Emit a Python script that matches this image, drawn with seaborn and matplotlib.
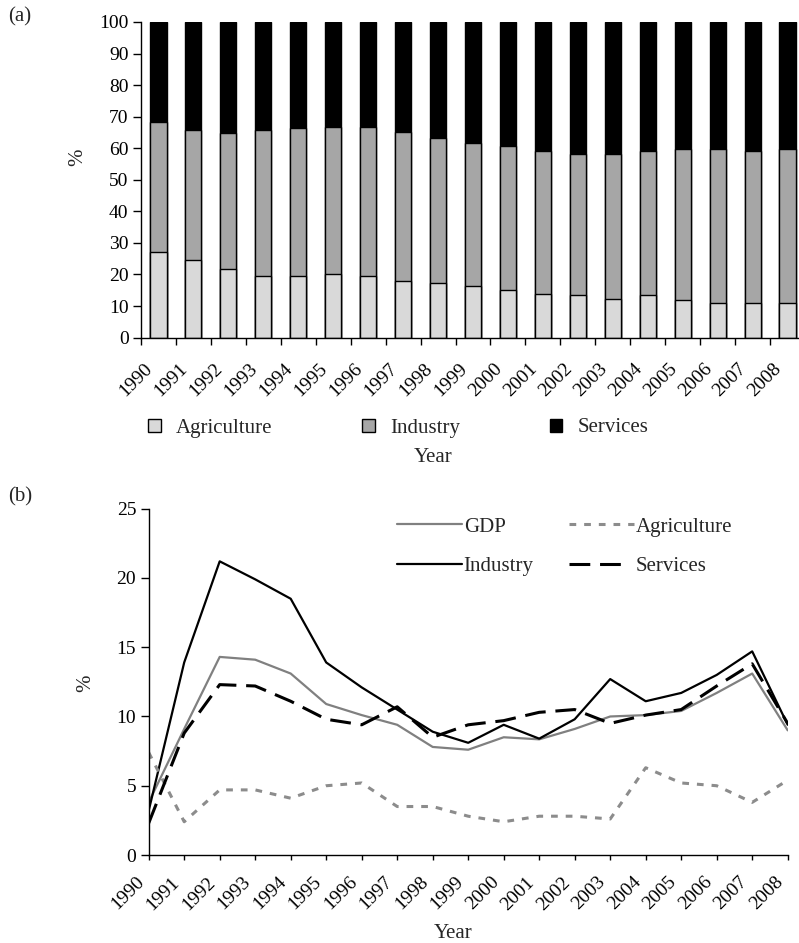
import numpy as np
import pandas as pd
import matplotlib
matplotlib.use("Agg")
import matplotlib.pyplot as plt
from matplotlib.patches import Patch
from matplotlib.lines import Line2D
from matplotlib.transforms import ScaledTranslation
import seaborn as sns

# ---- data -------------------------------------------------------------
years = list(range(1990, 2009))

# sector shares of GDP (%)
share_agriculture = [27.0, 24.6, 21.6, 19.5, 19.5, 20.1, 19.5, 17.9, 17.4, 16.4,
                     15.0, 13.9, 13.4, 12.3, 13.4, 11.9, 10.9, 10.9, 10.9]
share_industry = [41.3, 41.2, 43.3, 46.3, 46.8, 46.7, 47.3, 47.3, 45.9, 45.4,
                  45.8, 45.3, 44.9, 46.0, 45.8, 48.0, 49.0, 48.3, 49.0]
share_services = [31.7, 34.2, 35.1, 34.2, 33.7, 33.2, 33.2, 34.8, 36.7, 38.2,
                  39.2, 40.8, 41.7, 41.7, 40.8, 40.1, 40.1, 40.8, 40.1]

# annual growth rates (%)
growth_gdp = [3.8, 9.1, 14.3, 14.1, 13.1, 10.9, 10.1, 9.4, 7.8, 7.6,
              8.5, 8.35, 9.1, 10.0, 10.1, 10.4, 11.7, 13.1, 9.0]
growth_agriculture = [7.4, 2.4, 4.7, 4.7, 4.1, 5.0, 5.2, 3.5, 3.5, 2.8,
                      2.4, 2.8, 2.8, 2.6, 6.3, 5.2, 5.0, 3.8, 5.4]
growth_industry = [3.2, 13.9, 21.2, 19.9, 18.5, 13.9, 12.1, 10.5, 8.9, 8.1,
                   9.4, 8.4, 9.8, 12.7, 11.1, 11.7, 13.0, 14.7, 9.4]
growth_services = [2.3, 8.8, 12.3, 12.2, 11.1, 9.8, 9.4, 10.7, 8.5, 9.4,
                   9.7, 10.3, 10.5, 9.5, 10.1, 10.5, 12.2, 13.8, 9.5]

# ---- style ------------------------------------------------------------
sns.set_theme(style="white")
plt.rcParams["font.family"] = ["Liberation Serif", "DejaVu Serif"]
plt.rcParams["font.size"] = 15
plt.rcParams["axes.linewidth"] = 1.0
plt.rcParams["xtick.color"] = "black"
plt.rcParams["ytick.color"] = "black"

FS = 15        # legend and axis titles
FS_TICK = 14   # tick labels
C_AGRI = "#d9d9d9"
C_IND = "#a6a6a6"
C_SERV = "#000000"

DASH_AGRI = (0, (2.2, 2.6))
DASH_SERV = (0, (6.8, 3.2))


def shift_labels(labels, dx_px, dy_px, fig):
    """Move tick labels by a fixed offset in pixels."""
    off = ScaledTranslation(dx_px / fig.dpi, dy_px / fig.dpi, fig.dpi_scale_trans)
    for lab in labels:
        lab.set_transform(lab.get_transform() + off)


fig = plt.figure(figsize=(7.99, 9.43), dpi=100)

# ---- (a) stacked shares -----------------------------------------------
ax1 = fig.add_axes([141 / 799, 1 - 337.6 / 943, 664 / 799, (337.6 - 22) / 943])

year_labels = [str(y) for y in years]
agri = np.array(share_agriculture)
ind = np.array(share_industry)
serv = np.array(share_services)
df_share = pd.DataFrame({
    "year": year_labels,
    "total": agri + ind + serv,
    "agri_ind": agri + ind,
    "agri": agri,
})

bar_kw = dict(width=0.46, edgecolor="black", linewidth=1.0, saturation=1, ax=ax1)
sns.barplot(data=df_share, x="year", y="total", color=C_SERV, **bar_kw)
sns.barplot(data=df_share, x="year", y="agri_ind", color=C_IND, **bar_kw)
sns.barplot(data=df_share, x="year", y="agri", color=C_AGRI, **bar_kw)

ax1.set_xlim(-0.5, len(years) - 0.5)
ax1.set_ylim(0, 100)
ax1.set_yticks(np.arange(0, 101, 10))
ax1.set_xticks(np.arange(-0.5, len(years), 1))
ax1.set_xticklabels([])
ax1.set_xticks(np.arange(len(years)), minor=True)
ax1.set_xticklabels(year_labels, minor=True, rotation=45, ha="right",
                    va="top", rotation_mode="anchor", fontsize=FS_TICK)
ax1.tick_params(axis="x", which="major", direction="out", length=4.8, width=1,
                bottom=True)
ax1.tick_params(axis="x", which="minor", length=0, pad=10, bottom=True)
ax1.tick_params(axis="y", direction="out", length=6, width=1, left=True,
                labelsize=FS_TICK, pad=3)
shift_labels(ax1.get_xticklabels(minor=True), -14.5, -9, fig)
for s in ["top", "right"]:
    ax1.spines[s].set_visible(False)
for s in ["left", "bottom"]:
    ax1.spines[s].set_color("black")
ax1.set_xlabel("")
ax1.set_ylabel("")
fig.text(78 / 799, 1 - 157 / 943, "%", rotation=90, ha="center", va="center",
         fontsize=FS)
fig.text(8 / 799, 1 - 17 / 943, "(a)", ha="left", va="center", fontsize=FS)

handles_a = [Patch(facecolor=C_AGRI, edgecolor="black", linewidth=1.0),
             Patch(facecolor=C_IND, edgecolor="black", linewidth=1.0),
             Patch(facecolor=C_SERV, edgecolor="black", linewidth=1.0)]
fig.legend(handles_a, ["Agriculture", "Industry", "Services"], ncol=3,
           loc="center left", bbox_to_anchor=(148 / 799, 1 - 428 / 943),
           frameon=False, fontsize=FS, handlelength=0.6, handleheight=0.6,
           handletextpad=0.75, columnspacing=4.3, borderpad=0, borderaxespad=0)
fig.text(433 / 799, 1 - 457 / 943, "Year", ha="center", va="center",
         fontsize=FS)

# ---- (b) growth rates -------------------------------------------------
ax2 = fig.add_axes([148.7 / 799, 1 - 855 / 943, (787.7 - 148.7) / 799,
                    (855 - 508.7) / 943])

sns.lineplot(x=years, y=growth_gdp, color="#808080", linewidth=1.6,
             ax=ax2, label="GDP")
sns.lineplot(x=years, y=growth_industry, color="black", linewidth=1.6,
             ax=ax2, label="Industry")
sns.lineplot(x=years, y=growth_agriculture, color="#8c8c8c", linewidth=2.2,
             linestyle=DASH_AGRI, ax=ax2, label="Agriculture")
sns.lineplot(x=years, y=growth_services, color="black", linewidth=2.2,
             linestyle=DASH_SERV, ax=ax2, label="Services")
ax2.get_legend().remove()

ax2.set_xlim(years[0], years[-1])
ax2.set_ylim(0, 25)
ax2.set_yticks(np.arange(0, 26, 5))
ax2.set_xticks(years)
ax2.set_xticklabels(year_labels, rotation=45, ha="right", va="top",
                    rotation_mode="anchor", fontsize=FS_TICK)
ax2.tick_params(axis="x", direction="out", length=3.6, width=1, bottom=True,
                pad=4)
ax2.tick_params(axis="y", direction="out", length=6, width=1, left=True,
                labelsize=FS_TICK, pad=3)
shift_labels(ax2.get_xticklabels(), -13.2, -8, fig)
for s in ["top", "right"]:
    ax2.spines[s].set_visible(False)
for s in ["left", "bottom"]:
    ax2.spines[s].set_color("black")
ax2.set_xlabel("")
ax2.set_ylabel("")
fig.text(86 / 799, 1 - 683 / 943, "%", rotation=90, ha="center", va="center",
         fontsize=FS)
fig.text(8 / 799, 1 - 497 / 943, "(b)", ha="left", va="center", fontsize=FS)
fig.text(453 / 799, 1 - 933 / 943, "Year", ha="center", va="center",
         fontsize=FS)

# legend keys: the services key shows two full dashes
line_handles = [
    Line2D([], [], color="#808080", linewidth=1.6),
    Line2D([], [], color="black", linewidth=1.6),
    Line2D([], [], color="#8c8c8c", linewidth=2.2, linestyle=DASH_AGRI),
    Line2D([], [], color="black", linewidth=2.2,
           linestyle=(0, (6.8, 3.2, 6.8, 12))),
]
fig.legend(line_handles, ["GDP", "Industry", "Agriculture", "Services"],
           ncol=2, loc="upper left", bbox_to_anchor=(397 / 799, 1 - 517 / 943),
           frameon=False, fontsize=FS, handlelength=3.1, handletextpad=0.1,
           columnspacing=1.7, labelspacing=0.95, borderpad=0, borderaxespad=0)

fig.savefig("out.png", dpi=100)
